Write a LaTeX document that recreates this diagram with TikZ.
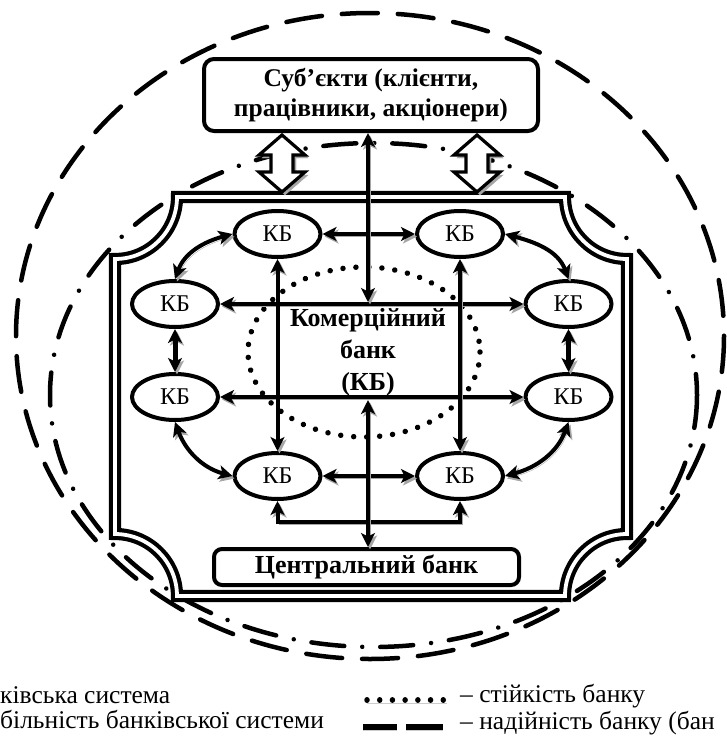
\documentclass[tikz,border=0pt]{standalone}
\usepackage{fontspec}
\setmainfont{Liberation Serif}
\usetikzlibrary{arrows.meta,shapes.geometric}
\tikzset{
  kbtip/.tip={Stealth[length=14pt,width=14pt,inset=3.5pt]},
  kb/.style={ellipse, draw, line width=4pt, minimum width=86pt, minimum height=46pt,
    inner sep=0pt, fill=white, font=\fontsize{24}{24}\selectfont},
  shad/.style={preaction={draw=black!35, transform canvas={xshift=2pt,yshift=-2.5pt}}},
  link/.style={line width=4pt, kbtip-kbtip, shad},
  bigbox/.style={draw, line width=4pt, fill=white, inner sep=0pt, align=center},
  legtext/.style={anchor=base west, inner sep=0pt, font=\fontsize{25.5}{25.5}\selectfont},
}
\begin{document}
\begin{tikzpicture}[x=1pt,y=-1pt]
\useasboundingbox (0,0) rectangle (726,742);

% outer ellipses
\draw[line width=4.5pt, dash pattern=on 36pt off 20pt, line cap=round]
  (370,336) ellipse [x radius=354, y radius=323];
\draw[line width=4.5pt, dash pattern=on 33pt off 18pt on 0.01pt off 18pt, line cap=round]
  (373.5,395) ellipse [x radius=323.5, y radius=252];

% frame with concave corners
\draw[line width=4.2pt, double, double distance=3.8pt]
  (177,197) -- (565,197) .. controls (565,231.2) and (592.8,259) .. (627,259)
  -- (627,534) .. controls (592.8,534) and (565,561.8) .. (565,596)
  -- (177,596) .. controls (177,561.8) and (149.2,534) .. (115,534)
  -- (115,259) .. controls (149.2,259) and (177,231.2) .. (177,197) -- cycle;

% dotted ellipse (bank stability)
\draw[line width=5.5pt, dash pattern=on 0.01pt off 13pt, line cap=round]
  (364,352) ellipse [x radius=116, y radius=85];

% subjects box
\node[bigbox, rounded corners=10pt, minimum width=334pt, minimum height=72pt,
  font=\bfseries\fontsize{25.5}{30}\selectfont] (subj) at (371,95)
  {Суб’єкти (клієнти,\\працівники, акціонери)};

% hollow double arrows
\foreach \cx in {282,477}{
  \draw[line width=3.2pt, fill=white,
    preaction={fill=black!35, draw=black!35, transform canvas={xshift=3pt,yshift=-3pt}}]
    (\cx,135) -- (\cx+23,155) -- (\cx+11,155) -- (\cx+11,172) -- (\cx+23,172)
    -- (\cx,192) -- (\cx-23,172) -- (\cx-11,172) -- (\cx-11,155) -- (\cx-23,155) -- cycle;
}

% central bank box
\node[bigbox, rounded corners=8pt, minimum width=305pt, minimum height=36pt,
  font=\bfseries\fontsize{26}{26}\selectfont] (cb) at (366.5,567) {Центральний банк};

% commercial bank text
\node[align=center, inner sep=0pt, font=\bfseries\fontsize{26}{32}\selectfont]
  (kbc) at (368,352) {Комерційний\\банк\\(КБ)};

% KB nodes
\node[kb] (tl) at (277.5,234) {КБ};
\node[kb] (tr) at (460,234) {КБ};
\node[kb] (lu) at (175,304) {КБ};
\node[kb] (ru) at (568.5,304) {КБ};
\node[kb] (ll) at (175,397) {КБ};
\node[kb] (rl) at (568.5,397) {КБ};
\node[kb] (bl) at (277.5,476) {КБ};
\node[kb] (br) at (460,476) {КБ};

\coordinate (hTop) at (368,302);
\coordinate (hBot) at (368,400);
\coordinate (brk) at (368,522);

% connectors
\draw[link] (lu.east) -- (ru.west);
\draw[link] (ll.east) -- (rl.west);
\draw[link] (tl.east) -- (tr.west);
\draw[link] (bl.east) -- (br.west);
\draw[link] (tl.south) -- (bl.north);
\draw[link] (tr.south) -- (br.north);
\draw[link, line width=5pt] (lu.south) -- (ll.north);
\draw[link, line width=5pt] (ru.south) -- (rl.north);
\draw[link] (tl.west) to[out=195, in=70] (lu.north);
\draw[link] (tr.east) to[out=-15, in=110] (ru.north);
\draw[link] (ll.south) to[out=-70, in=165] (bl.west);
\draw[link] (rl.south) to[out=-110, in=15] (br.east);
\draw[link] (bl.south) |- (brk) -| (br.south);
\draw[link] (subj.south -| hTop) -- (hTop);
\draw[link] (hBot) -- (cb.north -| hBot);

% legend
\node[legtext] (lg1) at (0,703) {ківська система};
\node[legtext] (lg2) at (0,728) {більність банківської системи};
\draw[line width=5.5pt, dash pattern=on 0.01pt off 12.7pt, line cap=round,
  preaction={draw=black!20, transform canvas={yshift=-3pt}}] (367,700) -- (447,700);
\draw[line width=5.5pt, preaction={draw=black!20, transform canvas={yshift=-3pt}}]
  (363,727) -- (397,727) (406,727) -- (443,727);
\node[legtext] (lg3) at (460,702) {– стійкість банку};
\node[legtext] (lg4) at (460,729) {– надійність банку (бан};
\end{tikzpicture}
\end{document}
